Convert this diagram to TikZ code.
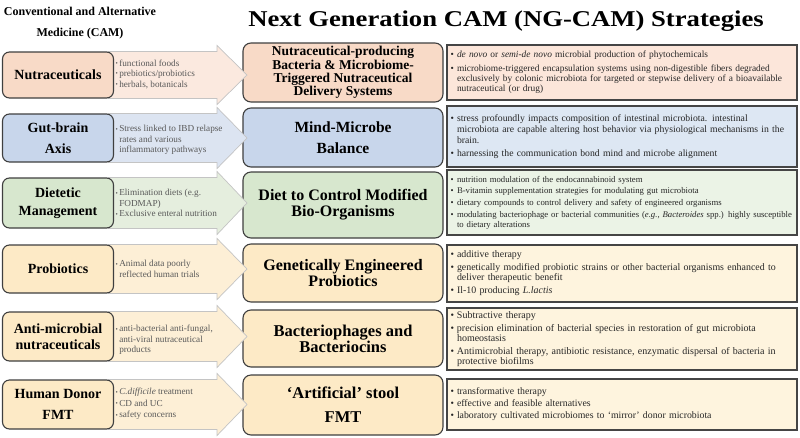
\documentclass[tikz,border=0pt]{standalone}
\usepackage{fontspec}
\setmainfont{Liberation Serif}
\newfontfamily\hdrfont[FakeStretch=1.18]{Liberation Serif}
\usetikzlibrary{calc}
\pgfdeclarelayer{front}
\pgfsetlayers{main,front}
\definecolor{edge}{HTML}{3F3F3F}
\definecolor{infoedge}{HTML}{454545}
\definecolor{arredge}{HTML}{C4C4C4}
\definecolor{arrtxt}{HTML}{595959}
\definecolor{txt}{HTML}{262626}
\definecolor{pinkD}{HTML}{F8DAC7}
\definecolor{pinkL}{HTML}{FCE6DA}
\definecolor{pinkA}{HTML}{FBE9DF}
\definecolor{blueD}{HTML}{C8D6EB}
\definecolor{blueL}{HTML}{DDE7F3}
\definecolor{blueA}{HTML}{DCE4F1}
\definecolor{greenD}{HTML}{D7E7CE}
\definecolor{greenL}{HTML}{EBF3E6}
\definecolor{greenA}{HTML}{E5EEDE}
\definecolor{yelD}{HTML}{FDEAC6}
\definecolor{yelL}{HTML}{FEF4DE}
\definecolor{yelA}{HTML}{FDEFD6}
\newcommand\bul{\makebox[6.5pt][l]{\textbullet}}
\newcommand\ind{\hspace*{6.5pt}}
\newcommand\sbul{\makebox[3.6pt][l]{\raisebox{0.6pt}{\fontsize{6.5}{6.5}\selectfont\textbullet}}}
\newcommand\sind{\hspace*{3.6pt}}
\begin{document}
\begin{tikzpicture}[x=1pt,y=-1pt,
  cam/.style={draw=edge, line width=1.1pt, rounded corners=7pt, align=center,
    font=\bfseries\fontsize{14}{15.5}\selectfont, inner sep=2pt, minimum width=111pt, text=black},
  ng/.style={draw=edge, line width=1.1pt, rounded corners=8pt, align=center,
    font=\bfseries\fontsize{16}{16}\selectfont, inner sep=2pt, minimum width=200pt, text=black},
  info/.style={draw=infoedge, line width=1.4pt, minimum width=350pt, text width=343pt,
    inner xsep=3.5pt, inner ysep=0pt, align=left, text=txt},
  arr/.style={draw=arredge, line width=0.7pt},
  itxt/.style={anchor=west, align=left, inner sep=0pt, font=\fontsize{9.2}{10.5}\selectfont, text=arrtxt},
  hdr/.style={align=center, text=black}
]
\useasboundingbox (0,0) rectangle (800,437);
\coordinate (S) at (108,0);
\coordinate (H) at (217,0);
\coordinate (T) at (247,0);

% headers
\node[hdr, font=\bfseries\fontsize{12}{21}\selectfont] (h1) at (80,23.5) {Conventional and Alternative\\Medicine (CAM)};
\node[hdr, font=\hdrfont\bfseries\fontsize{22.6}{24}\selectfont] (h2) at (506,21) {Next Generation CAM (NG-CAM) Strategies};

% left boxes
\begin{pgfonlayer}{front}
\node[cam, fill=pinkD, minimum height=46pt] (L1) at (58,75) {Nutraceuticals};
\node[cam, fill=blueD, minimum height=48pt] (L2) at (58,138) {Gut-brain\\[5pt]Axis};
\node[cam, fill=greenD, minimum height=50pt] (L3) at (58,203) {Dietetic\\[3pt]Management};
\node[cam, fill=yelD, minimum height=48pt] (L4) at (58,269) {Probiotics};
\node[cam, fill=yelD, minimum height=49pt] (L5) at (58,336.5) {Anti-microbial\\nutraceuticals};
\node[cam, fill=yelD, minimum height=49pt] (L6) at (58,404.5) {Human Donor\\[6pt]FMT};
\end{pgfonlayer}

% middle boxes
\node[ng, fill=pinkD, minimum height=59pt, font=\bfseries\fontsize{13.5}{13.2}\selectfont] (M1) at (343,72.5) {Nutraceutical-producing\\Bacteria \& Microbiome-\\Triggered Nutraceutical\\Delivery Systems};
\node[ng, fill=blueD, minimum height=59pt, font=\bfseries\fontsize{15.5}{15.5}\selectfont] (M2) at (343,137.5) {Mind-Microbe\\[6pt]Balance};
\node[ng, fill=greenD, minimum height=66pt] (M3) at (343,205) {Diet to Control Modified\\Bio-Organisms};
\node[ng, fill=yelD, minimum height=58pt] (M4) at (343,273) {Genetically Engineered\\Probiotics};
\node[ng, fill=yelD, minimum height=57pt, font=\bfseries\fontsize{16.5}{16}\selectfont] (M5) at (343,338.5) {Bacteriophages and\\Bacteriocins};
\node[ng, fill=yelD, minimum height=60pt, font=\bfseries\fontsize{16.5}{16}\selectfont] (M6) at (343,405) {`Artificial' stool\\[8pt]FMT};

% right boxes
\node[info, fill=pinkL, minimum height=55pt, font=\fontsize{9.4}{10}\selectfont] (R1) at (622,72.5) {%
\bul\textit{de novo} or \textit{semi-de novo} microbial production of phytochemicals\\[4pt]
\bul microbiome-triggered encapsulation systems using non-digestible fibers degraded\\
\ind exclusively by colonic microbiota for targeted or stepwise delivery of a bioavailable\\
\ind nutraceutical (or drug)};
\node[info, fill=blueL, minimum height=61pt, font=\fontsize{9.7}{11}\selectfont] (R2) at (622,136.5) {%
\bul stress profoundly impacts composition of intestinal microbiota. intestinal\\
\ind microbiota are capable altering host behavior via physiological mechanisms in the\\
\ind brain.\\[2pt]
\bul harnessing the communication bond mind and microbe alignment};
\node[info, fill=greenL, minimum height=65pt, font=\fontsize{8.7}{9.4}\selectfont] (R3) at (622,202.5) {%
\bul nutrition modulation of the endocannabinoid system\\[2.5pt]
\bul B-vitamin supplementation strategies for modulating gut microbiota\\[2.5pt]
\bul dietary compounds to control delivery and safety of engineered organisms\\[2.5pt]
\bul modulating bacteriophage or bacterial communities (\textit{e.g.}, \textit{Bacteroides} spp.) highly susceptible\\
\ind to dietary alterations};
\node[info, fill=yelL, minimum height=57pt, font=\fontsize{9.9}{10}\selectfont] (R4) at (622,273.5) {%
\bul additive therapy\\[3pt]
\bul genetically modified probiotic strains or other bacterial organisms enhanced to\\
\ind deliver therapeutic benefit\\[3pt]
\bul Il-10 producing \textit{L.lactis}};
\node[info, fill=yelL, minimum height=62pt, font=\fontsize{10}{9.8}\selectfont] (R5) at (622,339) {%
\bul Subtractive therapy\\[3pt]
\bul precision elimination of bacterial species in restoration of gut microbiota\\
\ind homeostasis\\[3pt]
\bul Antimicrobial therapy, antibiotic resistance, enzymatic dispersal of bacteria in\\
\ind protective biofilms};
\node[info, fill=yelL, minimum height=51pt, font=\fontsize{9.8}{12}\selectfont] (R6) at (622,404.5) {%
\bul transformative therapy\\
\bul effective and feasible alternatives\\
\bul laboratory cultivated microbiomes to `mirror' donor microbiota};

% block arrows
\foreach \n/\c in {1/pinkA,2/blueA,3/greenA,4/yelA,5/yelA,6/yelA}{
  \draw[arr, fill=\c] (S |- L\n.north) -- (H |- L\n.north) -- ($(H |- L\n.north)+(0,-6)$)
    -- (T |- L\n.center) -- ($(H |- L\n.south)+(0,6)$) -- (H |- L\n.south) -- (S |- L\n.south) -- cycle;
}

% arrow texts
\node[itxt] (A1) at (115.5,74) {\sbul functional foods\\\sbul prebiotics/probiotics\\\sbul herbals, botanicals};
\node[itxt] (A2) at (115.5,140) {\sbul Stress linked to IBD relapse\\\sind rates and various\\\sind inflammatory pathways};
\node[itxt] (A3) at (115.5,203) {\sbul Elimination diets (e.g.\\\sind FODMAP)\\\sbul Exclusive enteral nutrition};
\node[itxt] (A4) at (115.5,269) {\sbul Animal data poorly\\\sind reflected human trials};
\node[itxt] (A5) at (115.5,340) {\sbul anti-bacterial anti-fungal,\\\sind anti-viral nutraceutical\\\sind products};
\node[itxt, font=\fontsize{9.2}{11.5}\selectfont] (A6) at (115.5,404) {\sbul\textit{C.difficile} treatment\\\sbul CD and UC\\\sbul safety concerns};
\end{tikzpicture}
\end{document}
